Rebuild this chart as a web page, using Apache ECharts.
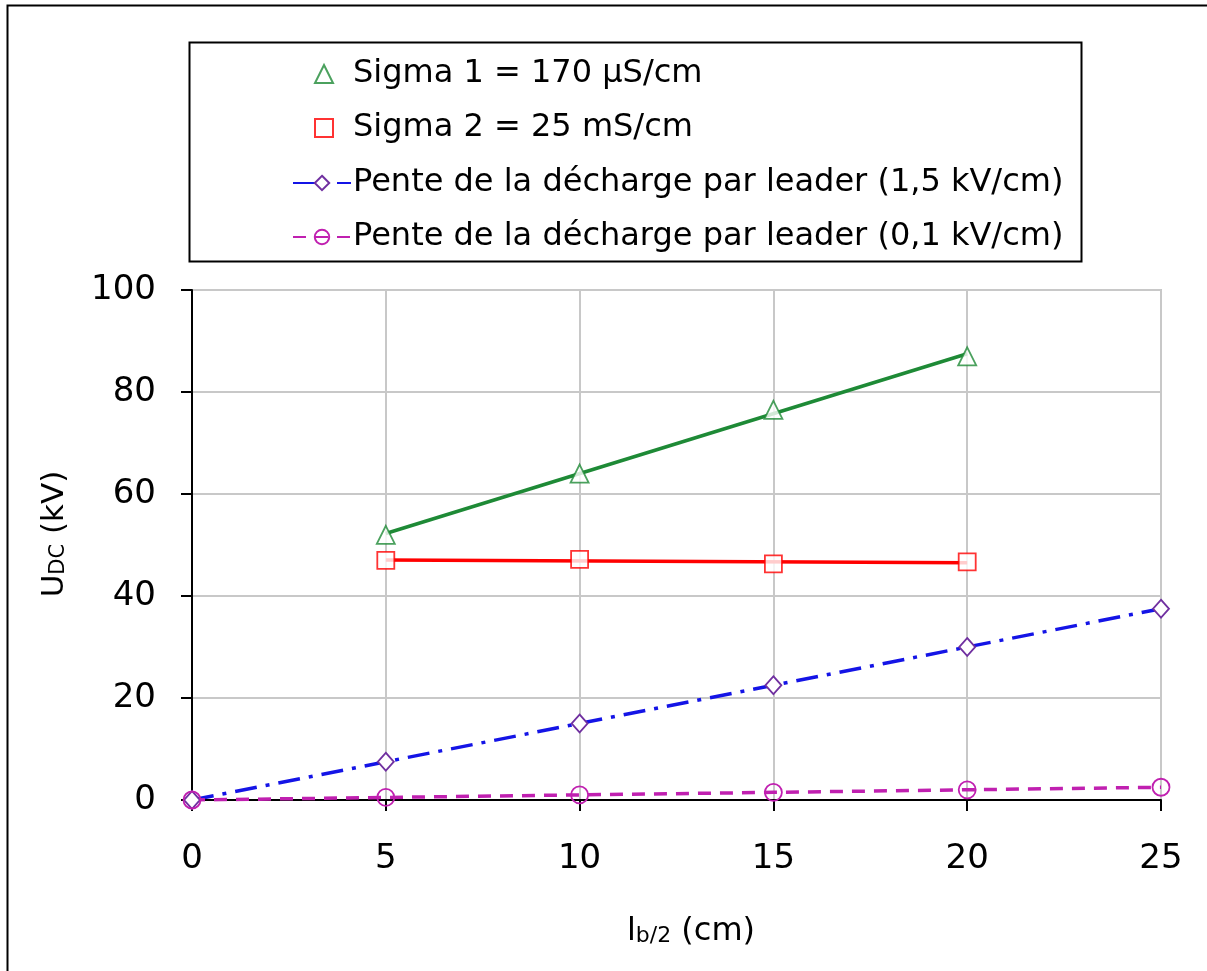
<!DOCTYPE html>
<html>
<head>
<meta charset="utf-8">
<script src="https://cdn.jsdelivr.net/npm/echarts@6/dist/echarts.min.js"></script>
<style>
html,body{margin:0;padding:0;background:#fff;}
#c{width:1207px;height:971px;}
</style>
</head>
<body>
<div id="c"></div>
<script>
// Data
const xSigma = [5, 10, 15, 20];
const sigma1 = [52, 64, 76.5, 87];
const sigma2 = [47, 47.2, 46.3, 46.7];
const xPente = [0, 5, 10, 15, 20, 25];
const pente15 = [0, 7.5, 15, 22.5, 30, 37.5];
const pente01 = [0, 0.5, 1, 1.5, 2, 2.5];
const xTicks = [0, 5, 10, 15, 20, 25];
const yTicks = [0, 20, 40, 60, 80, 100];
const names = ['Sigma 1 = 170 µS/cm', 'Sigma 2 = 25 mS/cm',
  'Pente de la décharge par leader (1,5 kV/cm)', 'Pente de la décharge par leader (0,1 kV/cm)'];

function fit(xs, ys) {
  const n = xs.length;
  const mx = xs.reduce((a, b) => a + b, 0) / n;
  const my = ys.reduce((a, b) => a + b, 0) / n;
  let sxy = 0, sxx = 0;
  for (let i = 0; i < n; i++) { sxy += (xs[i] - mx) * (ys[i] - my); sxx += (xs[i] - mx) ** 2; }
  const b = sxy / sxx, a = my - b * mx;
  return [[xs[0], a + b * xs[0]], [xs[n - 1], a + b * xs[n - 1]]];
}
const pair = (xs, ys) => xs.map((x, i) => [x, ys[i]]);

const FONT = 'DejaVu Sans';
const LFS = 32;
const legText = {fontSize: LFS, fontFamily: FONT, color: '#000'};
const chart = echarts.init(document.getElementById('c'), null, {renderer: 'canvas'});
chart.setOption({
  animation: false,
  backgroundColor: '#fff',
  textStyle: {fontFamily: FONT},
  graphic: [
    {type: 'rect', shape: {x: 7.5, y: 5.5, width: 1400, height: 1200}, style: {fill: 'none', stroke: '#000', lineWidth: 2}, silent: true, z: 0},
    {type: 'rect', shape: {x: 189.5, y: 42.5, width: 892, height: 219}, style: {fill: '#fff', stroke: '#000', lineWidth: 2}, silent: true, z: 0},
    {type: 'text', x: 55, y: 534, rotation: Math.PI / 2, style: {
      text: '{a|U}{b|DC}{a| (kV)}', rich: {a: {fontSize: 31, fontFamily: FONT, fill: '#000'}, b: {fontSize: 21, fontFamily: FONT, fill: '#000', padding: [8, 0, 0, 0]}},
      align: 'center', verticalAlign: 'middle'}, z: 10},
    {type: 'text', x: 691, y: 932, style: {
      text: '{a|l}{b|b/2}{a| (cm)}', rich: {a: {fontSize: 32, fontFamily: FONT, fill: '#000'}, b: {fontSize: 22, fontFamily: FONT, fill: '#000', padding: [8, 0, 0, 0]}},
      align: 'center', verticalAlign: 'middle'}, z: 10}
  ],
  legend: [
    {orient: 'vertical', left: 309, top: 53, itemGap: 22, itemWidth: 18, itemHeight: 18,
      textStyle: Object.assign({padding: [0, 0, 0, 15]}, legText), data: names.slice(0, 2), z: 5},
    {orient: 'vertical', left: 287, top: 162, itemGap: 22, itemWidth: 58, itemHeight: 18,
      textStyle: Object.assign({padding: [0, 0, 0, -3]}, legText), data: names.slice(2), z: 5}
  ],
  grid: {left: 192, right: 46, top: 290, bottom: 171, show: true, borderColor: '#999', borderWidth: 1.5},
  xAxis: {
    type: 'value', min: 0, max: 25, interval: 5,
    axisLine: {show: true, onZero: false, lineStyle: {color: '#000', width: 2}},
    axisTick: {show: true, length: 11, lineStyle: {color: '#000', width: 2}},
    axisLabel: {fontSize: 34, color: '#000', margin: 42, fontFamily: FONT},
    splitLine: {show: true, lineStyle: {color: '#c8c8c8', width: 2}}
  },
  yAxis: {
    type: 'value', min: 0, max: 100, interval: 20,
    axisLine: {show: true, onZero: false, lineStyle: {color: '#000', width: 2}},
    axisTick: {show: true, length: 11, lineStyle: {color: '#000', width: 2}},
    axisLabel: {fontSize: 34, color: '#000', margin: 36, fontFamily: FONT},
    splitLine: {show: true, lineStyle: {color: '#c8c8c8', width: 2}}
  },
  series: [
    {name: names[0], type: 'scatter', data: pair(xSigma, sigma1), symbol: 'triangle', symbolSize: 18,
      itemStyle: {color: '#fff', borderColor: '#1e8a36', borderWidth: 1.8}, z: 4},
    {name: names[1], type: 'scatter', data: pair(xSigma, sigma2), symbol: 'rect', symbolSize: 17,
      itemStyle: {color: '#fff', borderColor: '#ff0000', borderWidth: 1.8}, z: 4},
    {name: 'fit1', type: 'line', data: fit(xSigma, sigma1), showSymbol: false, lineStyle: {color: '#1e8a36', width: 3.5}, z: 3},
    {name: 'fit2', type: 'line', data: fit(xSigma, sigma2), showSymbol: false, lineStyle: {color: '#ff0000', width: 3.5}, z: 3},
    {name: names[2], type: 'line', data: pair(xPente, pente15), symbol: 'diamond', symbolSize: [16, 18], showAllSymbol: true,
      lineStyle: {color: '#1414e6', width: 3.5, type: [22, 9, 4, 9]},
      itemStyle: {color: '#fff', borderColor: '#7030a0', borderWidth: 1.8}, z: 3},
    {name: names[3], type: 'line', data: pair(xPente, pente01), symbol: 'circle', symbolSize: 17, showAllSymbol: true,
      lineStyle: {color: '#c020b0', width: 3.5, type: [13, 9]},
      itemStyle: {color: 'rgba(255,255,255,0)', borderColor: '#c020b0', borderWidth: 1.8}, z: 3}
  ]
});
</script>
</body>
</html>
